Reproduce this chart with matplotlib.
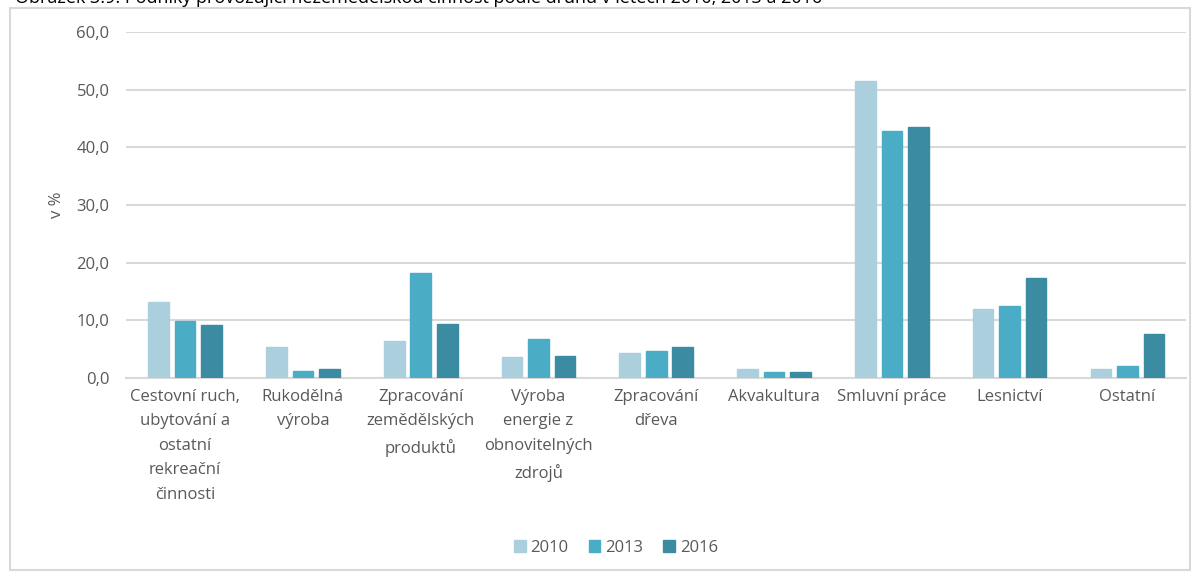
import matplotlib.pyplot as plt
import numpy as np
from matplotlib.patches import Rectangle

categories = ["Cestovní ruch,\nubytování a\nostatní\nrekreační\nčinnosti",
              "Rukodělná\nvýroba",
              "Zpracování\nzemědělských\nproduktů",
              "Výroba\nenergie z\nobnovitelných\nzdrojů",
              "Zpracování\ndřeva",
              "Akvakultura",
              "Smluvní práce",
              "Lesnictví",
              "Ostatní"]
years = ["2010", "2013", "2016"]
v2010 = [13.2, 5.3, 6.4, 3.6, 4.3, 1.6, 51.4, 11.9, 1.6]
v2013 = [9.8, 1.2, 18.2, 6.8, 4.6, 1.0, 42.8, 12.4, 2.1]
v2016 = [9.1, 1.6, 9.4, 3.8, 5.3, 1.0, 43.5, 17.3, 7.7]
yticks = [0, 10, 20, 30, 40, 50, 60]
title = "Obrázek 3.9: Podniky provozující nezemědělskou činnost podle druhu v letech 2010, 2013 a 2016"

colors = ["#abcfdc", "#4bacc6", "#3b8ba3"]
txt = "#595959"
plt.rcParams['font.family'] = ['Open Sans', 'DejaVu Sans']

fig = plt.figure(figsize=(12.02, 5.74), dpi=100)
ax = fig.add_axes([0.105, 0.3415, 0.882, 0.603])

x = np.arange(len(categories))
step = 0.225
for i, vals in enumerate([v2010, v2013, v2016]):
    ax.bar(x + (i - 1) * step, vals, width=0.175, color=colors[i], label=years[i],
           edgecolor=colors[i], zorder=3)

ax.set_xlim(-0.5, len(categories) - 0.5)
ax.set_ylim(0, 60)
ax.set_yticks(yticks)
ax.set_yticklabels([f"{t:.1f}".replace(".", ",") for t in yticks], color=txt, fontsize=12)
ax.set_xticks(x)
ax.set_xticklabels(categories, color=txt, fontsize=12, linespacing=1.7)
ax.tick_params(length=0, pad=12)
ax.tick_params(axis='x', pad=8)
ax.grid(axis='y', color='#d9d9d9', lw=1.5, zorder=0)
for s in ['top', 'right', 'left']:
    ax.spines[s].set_visible(False)
ax.spines['bottom'].set_color('#d9d9d9')
ax.spines['bottom'].set_linewidth(1.5)
ax.set_ylabel("v %", color=txt, fontsize=12, labelpad=8)

ax.legend(loc='center', bbox_to_anchor=(0.462, -0.49), ncol=3, frameon=False,
          fontsize=12, labelcolor=txt, handlelength=0.7, handleheight=0.7,
          handletextpad=0.3, columnspacing=1.2)

fig.patches.append(Rectangle((10 / 1202, 4 / 574), 1180 / 1202, 562 / 574,
                             transform=fig.transFigure, fill=False,
                             edgecolor='#d9d9d9', lw=1.5))
# title is cut off at the top edge in the original as well
fig.text(15 / 1202, 1 - 3 / 574, title, fontsize=13, color='black', va='baseline')

fig.savefig("out.png", dpi=100)
